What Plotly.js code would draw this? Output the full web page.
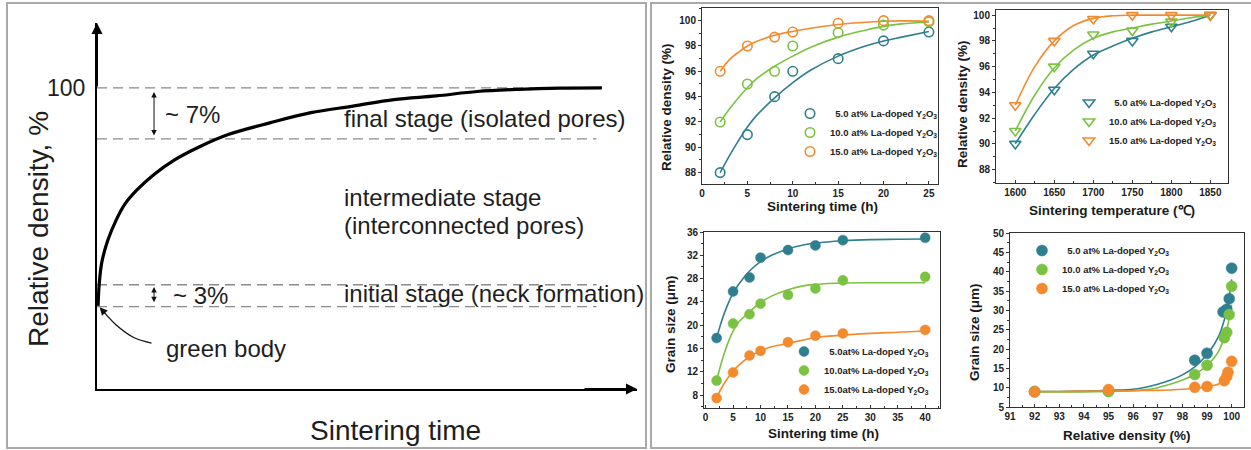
<!DOCTYPE html>
<html><head><meta charset="utf-8">
<script src="https://cdn.plot.ly/plotly-3.0.1.min.js"></script>
<style>html,body{margin:0;padding:0;background:#fff}#chart{width:1251px;height:450px}</style>
</head><body><div id="chart"></div>
<script>
// ---------- (a) schematic sintering curve ----------
const schemTime = [0.02,0.04,0.087,0.20,0.35,0.51,0.74,1.05,1.43,1.89,2.43,3.20,3.96,4.74,5.50,6.28,7.04,7.81,8.57,9.35];
const schemDensity = [70.1,73.0,76.0,79.1,81.8,84.0,86.0,88.1,90.1,91.9,93.6,95.2,96.6,97.5,98.4,98.9,99.5,99.8,99.96,100.0];
const stageLevels = [100, 93, 73, 70];
const stageEnds = [9.35, 9.25, 9.25, 9.25];
const greenArrowT = [1.01, 0.67, 0.35, 0.17, 0.07];
const greenArrowD = [65.0, 65.8, 67.5, 68.9, 69.7];

// ---------- legend names ----------
const namesA = ['\u00a0\u00a05.0 at% La-doped Y<sub>2</sub>O<sub>3</sub>', '10.0 at% La-doped Y<sub>2</sub>O<sub>3</sub>', '15.0 at% La-doped Y<sub>2</sub>O<sub>3</sub>'];
const namesB = ['\u00a0\u00a05.0at% La-doped Y<sub>2</sub>O<sub>3</sub>', '10.0at% La-doped Y<sub>2</sub>O<sub>3</sub>', '15.0at% La-doped Y<sub>2</sub>O<sub>3</sub>'];
const seriesColors = ['#2f7f8f', '#7cc242', '#f38a2e'];

// ---------- (b) relative density vs sintering time ----------
const timeA = [2,5,8,10,15,20,25];
const densTime5 = [88.0,91.0,94.0,96.0,97.0,98.4,99.1];
const densTime10 = [92.0,95.0,96.0,98.0,99.05,99.65,99.9];
const densTime15 = [96.0,98.0,98.7,99.1,99.8,100.0,100.0];
const fitTimeA = [2,3,4,5,6,8,10,12,15,18,20,22,25];
const fitDensTime5 = [88.0,89.3,90.5,91.6,92.5,93.9,95.1,96.1,97.2,98.0,98.4,98.7,99.15];
const fitDensTime10 = [92.0,93.0,93.9,94.7,95.4,96.4,97.2,97.9,98.7,99.25,99.55,99.75,99.9];
const fitDensTime15 = [96.0,96.9,97.5,98.0,98.35,98.85,99.15,99.4,99.7,99.88,99.95,99.98,99.95];

// ---------- (c) relative density vs sintering temperature ----------
const tempC = [1600,1650,1700,1750,1800,1850];
const densTemp5 = [90.0,94.2,97.0,98.0,99.1,100.0];
const densTemp10 = [91.0,96.0,98.5,98.8,99.5,100.0];
const densTemp15 = [93.0,98.0,99.7,100.0,100.0,100.0];
const fitTemp = [1600,1625,1650,1675,1700,1725,1750,1775,1800,1825,1850];
const fitDensTemp5 = [90.0,92.3,94.3,95.8,96.9,97.6,98.2,98.7,99.1,99.5,100.0];
const fitDensTemp10 = [91.0,93.8,95.9,97.3,98.2,98.7,99.0,99.3,99.55,99.8,100.0];
const fitDensTemp15 = [93.0,96.0,98.0,99.2,99.75,99.95,100.0,100.0,100.0,100.0,100.0];

// ---------- (d) grain size vs sintering time ----------
const timeB = [2,5,8,10,15,20,25,40];
const grainTime5 = [17.8,25.8,28.2,31.6,32.9,33.7,34.6,35.0];
const grainTime10 = [10.5,20.3,21.9,23.7,25.2,26.3,27.7,28.3];
const grainTime15 = [7.5,11.9,14.8,15.6,17.1,18.2,18.6,19.2];
const fitTimeB = [2,3,4,5,6,8,10,12,15,18,20,25,30,35,40];
const fitGrainTime5 = [17.8,21.0,23.5,25.5,27.0,29.3,30.9,32.0,33.1,33.8,34.1,34.5,34.7,34.75,34.8];
const fitGrainTime10 = [10.5,14.0,16.8,19.0,20.5,22.3,23.9,25.0,26.1,26.8,27.0,27.25,27.3,27.3,27.3];
const fitGrainTime15 = [7.6,9.4,10.9,12.1,13.1,14.6,15.6,16.3,16.9,17.5,17.9,18.3,18.6,18.8,19.0];

// ---------- (e) grain size vs relative density ----------
const relDens5 = [92,95,98.5,99,99.65,99.8,99.9,100];
const grainDens5 = [9.0,9.1,17.1,18.9,29.6,30.3,33.0,40.9];
const relDens10 = [92,95,98.5,99,99.7,99.8,99.9,100];
const grainDens10 = [9.0,9.0,13.4,15.8,22.9,24.3,28.9,36.2];
const relDens15 = [92,95,98.5,99,99.7,99.8,99.85,100];
const grainDens15 = [8.9,9.5,10.1,10.3,11.8,12.9,14.0,16.8];
const fitRelDens = [92,93,94,95,96,96.5,97,97.5,98,98.5,99,99.3,99.5,99.7,99.8,99.9,100];
const fitGrainDens5 = [9.0,9.0,9.1,9.3,9.6,10.1,10.9,11.9,13.3,15.4,18.6,21.3,23.7,27.5,30.0,33.6,38.0];
const fitGrainDens10 = [8.9,8.9,8.9,9.0,9.2,9.5,10.0,10.9,12.0,13.4,15.8,17.8,19.8,23.0,25.0,28.0,31.5];
const fitGrainDens15 = [9.0,9.0,9.1,9.1,9.2,9.3,9.3,9.4,9.6,9.8,10.2,10.6,11.0,11.8,12.4,13.4,15.0];

// ---------- helpers ----------
const W = 1251, H = 450;
const px = v => v / W;
const py = v => 1 - v / H;
const FONT = 'Liberation Sans, Arial, sans-serif';
const tickFont = {family: FONT, size: 10, color: '#222', weight: 'bold'};

function fitTrace(x, y, c, xa, ya) {
  return {x: x, y: y, xaxis: xa, yaxis: ya, mode: 'lines', type: 'scatter',
    line: {color: c, width: 1.6, shape: 'spline', smoothing: 1}, showlegend: false, hoverinfo: 'skip'};
}
function markTrace(x, y, c, name, sym, size, xa, ya, leg) {
  const filled = sym.indexOf('open') < 0;
  return {x: x, y: y, xaxis: xa, yaxis: ya, mode: 'markers', type: 'scatter', name: name, legend: leg,
    marker: {symbol: sym, size: size, color: c, line: {color: c, width: filled ? 0.5 : 1.6}}};
}
function boxAxis(o) {
  return Object.assign({showline: true, mirror: true, linecolor: '#333', linewidth: 1,
    ticks: 'outside', ticklen: 3, tickwidth: 1, tickcolor: '#333', showgrid: false, zeroline: false,
    tickfont: tickFont, fixedrange: true}, o);
}
function legendBox(x, y) {
  return {x: x, y: y, xanchor: 'left', yanchor: 'top', bgcolor: 'rgba(0,0,0,0)', borderwidth: 0,
    font: {family: FONT, size: 9.5, color: '#222', weight: 'bold'}, itemwidth: 30, traceorder: 'normal'};
}

const traces = [];
// schematic
stageLevels.forEach((lv, i) => {
  traces.push({x: [0, stageEnds[i]], y: [lv, lv], xaxis: 'x', yaxis: 'y', mode: 'lines', type: 'scatter',
    line: {color: '#8a8a8a', width: 1.3, dash: '10px,6px'}, showlegend: false, hoverinfo: 'skip'});
});
traces.push({x: schemTime, y: schemDensity, xaxis: 'x', yaxis: 'y', mode: 'lines', type: 'scatter',
  line: {color: '#000', width: 3.2, shape: 'spline', smoothing: 1}, showlegend: false, hoverinfo: 'skip'});
traces.push({x: greenArrowT, y: greenArrowD, xaxis: 'x', yaxis: 'y', mode: 'lines', type: 'scatter',
  line: {color: '#111', width: 1.3, shape: 'spline'}, showlegend: false, hoverinfo: 'skip'});

// (b)
[fitDensTime5, fitDensTime10, fitDensTime15].forEach((f, i) => traces.push(fitTrace(fitTimeA, f, seriesColors[i], 'x2', 'y2')));
[densTime5, densTime10, densTime15].forEach((d, i) => traces.push(markTrace(timeA, d, seriesColors[i], namesA[i], 'circle-open', 9.5, 'x2', 'y2', 'legend')));
// (c)
[fitDensTemp5, fitDensTemp10, fitDensTemp15].forEach((f, i) => traces.push(fitTrace(fitTemp, f, seriesColors[i], 'x3', 'y3')));
[densTemp5, densTemp10, densTemp15].forEach((d, i) => traces.push(markTrace(tempC, d, seriesColors[i], namesA[i], 'triangle-down-open', 10, 'x3', 'y3', 'legend2')));
// (d)
[fitGrainTime5, fitGrainTime10, fitGrainTime15].forEach((f, i) => traces.push(fitTrace(fitTimeB, f, seriesColors[i], 'x4', 'y4')));
[grainTime5, grainTime10, grainTime15].forEach((d, i) => traces.push(markTrace(timeB, d, seriesColors[i], namesB[i], 'circle', 10, 'x4', 'y4', 'legend3')));
// (e)
[fitGrainDens5, fitGrainDens10, fitGrainDens15].forEach((f, i) => traces.push(fitTrace(fitRelDens, f, seriesColors[i], 'x5', 'y5')));
const relDensAll = [relDens5, relDens10, relDens15];
[grainDens5, grainDens10, grainDens15].forEach((d, i) => traces.push(markTrace(relDensAll[i], d, seriesColors[i], namesA[i], 'circle', 11, 'x5', 'y5', 'legend4')));

const txt = (t, x, y, o) => Object.assign({text: t, x: x, y: y, xref: 'paper', yref: 'paper', showarrow: false,
  xanchor: 'left', yanchor: 'middle', font: {family: FONT, size: 24, color: '#1e1e1e'}}, o || {});
const btitle = (t, x, y, rot) => ({text: t, x: px(x), y: py(y), xref: 'paper', yref: 'paper', showarrow: false,
  xanchor: 'center', yanchor: 'middle', textangle: rot || 0, font: {family: FONT, size: 13.5, color: '#1a1a1a', weight: 'bold'}});
const arrow = (x, y, ax, ay, o) => Object.assign({text: '', x: x, y: y, ax: ax, ay: ay, xref: 'x', yref: 'y',
  axref: 'x', ayref: 'y', showarrow: true, arrowhead: 2, arrowsize: 1, arrowwidth: 1.2, arrowcolor: '#111'}, o || {});

const annotations = [
  txt('~ 7%', px(163), py(115)),
  txt('~ 3%', px(171), py(295)),
  txt('final stage (isolated pores)', px(342), py(118)),
  txt('intermediate stage', px(342), py(197)),
  txt('(interconnected pores)', px(342), py(225)),
  txt('initial stage (neck formation)', px(342), py(293)),
  txt('green body', px(164), py(348)),
  txt('Relative density, %', px(39), py(229), {xanchor: 'center', textangle: -90, font: {family: FONT, size: 28, color: '#1e1e1e'}}),
  txt('Sintering time', px(395), py(430), {xanchor: 'center', font: {family: FONT, size: 28, color: '#1e1e1e'}}),
  arrow(1.056, 99.45, 1.056, 93.28, {arrowside: 'end+start', arrowwidth: 1, arrowsize: 1.1}),
  arrow(1.056, 72.7, 1.056, 70.4, {arrowside: 'end+start', arrowwidth: 1, arrowsize: 1.1}),
  arrow(0.05, 69.9, 0.17, 68.9, {arrowwidth: 1.3, arrowsize: 1.2}),
  arrow(0, 108.9, 0, 100, {arrowwidth: 2, arrowsize: 1.1, arrowcolor: '#000'}),
  arrow(10, 58.7, 9, 58.7, {arrowwidth: 2, arrowsize: 1.1, arrowcolor: '#000'}),
  btitle('Relative density (%)', 667, 107, -90),
  btitle('Sintering time (h)', 822, 207),
  btitle('Relative density (%)', 963, 104, -90),
  btitle('Sintering temperature (\u2103)', 1112, 210),
  btitle('Grain size (\u03bcm)', 670, 324, -90),
  btitle('Sintering time (h)', 823, 433),
  btitle('Grain size (\u03bcm)', 974, 332, -90),
  btitle('Relative density (%)', 1127, 435)
];

const layout = {
  width: W, height: H, autosize: false, margin: {l: 0, r: 0, t: 0, b: 0},
  paper_bgcolor: '#fff', plot_bgcolor: 'rgba(0,0,0,0)', showlegend: true,
  font: {family: FONT},
  xaxis: {domain: [px(97), px(637)], range: [0, 10], anchor: 'y', showline: true, linecolor: '#000', linewidth: 2,
    ticks: '', showticklabels: false, showgrid: false, zeroline: false, fixedrange: true},
  yaxis: {domain: [py(389), py(23)], range: [58.7, 108.9], anchor: 'x', showline: true, linecolor: '#000', linewidth: 2,
    ticks: '', tickvals: [100], ticktext: ['100'], ticklabelstandoff: 5,
    tickfont: {family: FONT, size: 23, color: '#1e1e1e'}, showgrid: false, zeroline: false, fixedrange: true},
  xaxis2: boxAxis({domain: [px(702), px(938)], range: [0, 26], anchor: 'y2', tick0: 0, dtick: 5, ticks: 'inside',
    minor: {dtick: 2.5, ticklen: 2, ticks: 'inside', tickcolor: '#333'}}),
  yaxis2: boxAxis({domain: [py(184), py(8)], range: [87.1, 101], anchor: 'x2', tick0: 88, dtick: 2,
    minor: {dtick: 1, ticklen: 2, ticks: 'outside', tickcolor: '#333'}}),
  xaxis3: boxAxis({domain: [px(996), px(1228)], range: [1575.3, 1872.6], anchor: 'y3', tick0: 1600, dtick: 50, ticks: 'inside',
    minor: {dtick: 25, ticklen: 2, ticks: 'inside', tickcolor: '#333'}}),
  yaxis3: boxAxis({domain: [py(183), py(10)], range: [86.96, 100.4], anchor: 'x3', tick0: 88, dtick: 2,
    minor: {dtick: 1, ticklen: 2, ticks: 'outside', tickcolor: '#333'}}),
  xaxis4: boxAxis({domain: [px(704), px(940)], range: [-0.3, 42.7], anchor: 'y4', tick0: 0, dtick: 5, ticks: 'inside',
    minor: {dtick: 2.5, ticklen: 2, ticks: 'inside', tickcolor: '#333'}}),
  yaxis4: boxAxis({domain: [py(408), py(232)], range: [5.8, 36], anchor: 'x4', tick0: 8, dtick: 4,
    minor: {dtick: 2, ticklen: 2, ticks: 'outside', tickcolor: '#333'}}),
  xaxis5: boxAxis({domain: [px(1010), px(1244)], range: [91, 100.5], anchor: 'y5', tick0: 91, dtick: 1, ticks: 'inside',
    minor: {dtick: 0.5, ticklen: 2, ticks: 'inside', tickcolor: '#333'}}),
  yaxis5: boxAxis({domain: [py(407), py(233)], range: [5, 50], anchor: 'x5', tick0: 5, dtick: 5,
    minor: {dtick: 2.5, ticklen: 2, ticks: 'outside', tickcolor: '#333'}}),
  legend: legendBox(px(790), py(99)),
  legend2: legendBox(px(1069), py(88)),
  legend3: legendBox(px(784), py(337)),
  legend4: legendBox(px(1022), py(236)),
  annotations: annotations,
  shapes: [
    {type: 'rect', xref: 'paper', yref: 'paper', x0: px(7), x1: px(646), y0: py(448), y1: py(3), line: {color: '#a9a9a9', width: 2}},
    {type: 'rect', xref: 'paper', yref: 'paper', x0: px(651), x1: px(1256), y0: py(448), y1: py(3), line: {color: '#a9a9a9', width: 2}}
  ]
};

Plotly.newPlot('chart', traces, layout, {staticPlot: true, displayModeBar: false});
</script>
</body></html>
